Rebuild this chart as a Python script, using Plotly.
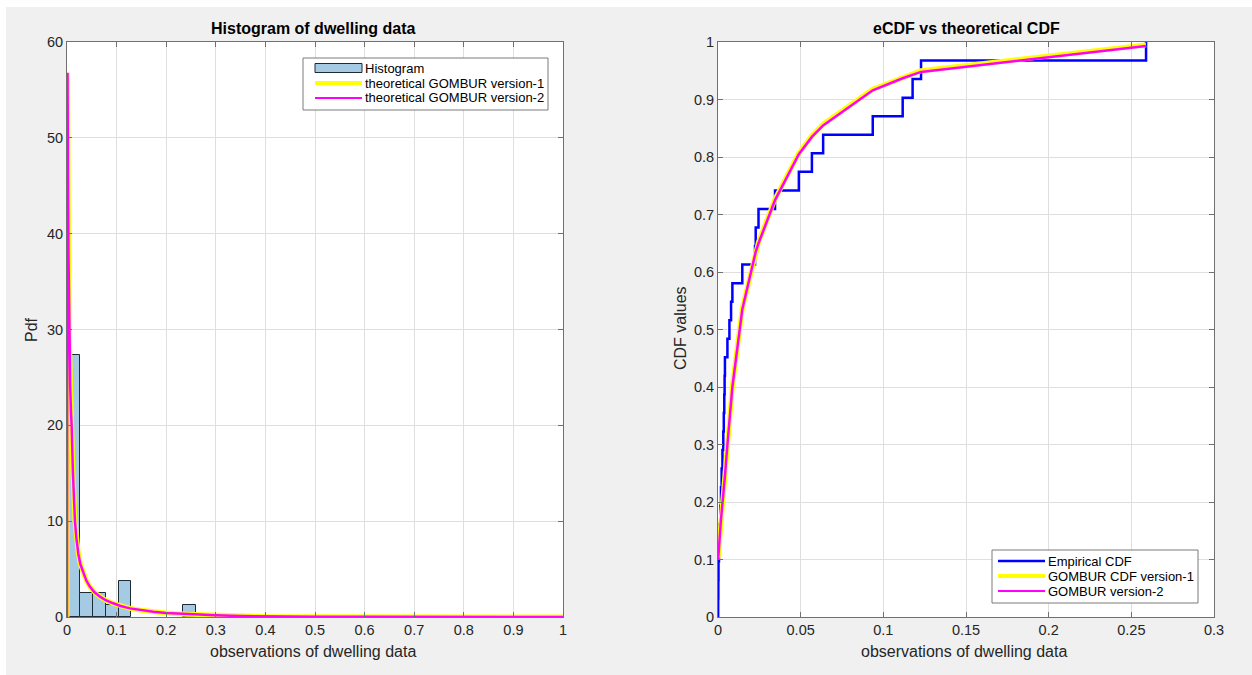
import numpy as np
import plotly.graph_objects as go

# ---- dwelling observations (sorted) ----
observations = [
    0.0001, 0.0002, 0.0003, 0.0006, 0.0010, 0.0014, 0.0018, 0.0022, 0.0027, 0.0032,
    0.0035, 0.0038, 0.0040, 0.0042, 0.0057, 0.0069, 0.0079, 0.0087, 0.0147, 0.0224,
    0.0228, 0.0245, 0.0345, 0.0489, 0.0568, 0.0636, 0.0936, 0.1117, 0.1177, 0.1228,
    0.2589,
]

# theoretical GOMBUR CDF evaluated at the observations
cdf_v1 = [
    0.102, 0.107, 0.112, 0.127, 0.142, 0.157, 0.172, 0.184, 0.197, 0.212,
    0.222, 0.232, 0.240, 0.247, 0.302, 0.347, 0.377, 0.402, 0.537, 0.632,
    0.637, 0.652, 0.727, 0.807, 0.837, 0.857, 0.918, 0.939, 0.945, 0.950,
    0.995,
]
cdf_v2 = [
    0.100, 0.105, 0.110, 0.125, 0.140, 0.155, 0.170, 0.182, 0.195, 0.210,
    0.220, 0.230, 0.238, 0.245, 0.300, 0.345, 0.375, 0.400, 0.535, 0.630,
    0.635, 0.650, 0.725, 0.805, 0.835, 0.855, 0.916, 0.937, 0.943, 0.948,
    0.993,
]

# theoretical GOMBUR pdf on a grid of x values
pdf_x = [0.0, 0.001, 0.002, 0.003, 0.0047, 0.0065, 0.008, 0.0094, 0.012, 0.016,
         0.019, 0.0228, 0.027, 0.033, 0.039, 0.046, 0.055, 0.0665, 0.078, 0.093,
         0.108, 0.127, 0.15, 0.174, 0.20, 0.241, 0.30, 0.35, 0.40, 0.50,
         0.60, 0.70, 0.80, 0.90, 1.0]
pdf_v1 = [0.0, 56.8, 46.0, 38.0, 29.0, 24.0, 21.5, 19.9, 15.0, 10.0,
          8.2, 6.6, 5.5, 4.56, 3.8, 3.17, 2.6, 2.12, 1.75, 1.43,
          1.15, 0.90, 0.70, 0.55, 0.42, 0.30, 0.18, 0.10, 0.06, 0.03,
          0.015, 0.008, 0.005, 0.003, 0.002]
pdf_v2 = [0.0, 56.8, 46.0, 38.0, 29.0, 24.0, 21.5, 19.9, 15.0, 10.0,
          8.2, 6.6, 5.5, 4.56, 3.8, 3.17, 2.6, 2.12, 1.75, 1.43,
          1.15, 0.90, 0.70, 0.55, 0.42, 0.30, 0.18, 0.10, 0.06, 0.03,
          0.015, 0.008, 0.005, 0.003, 0.002]

# histogram binning
bin_start, bin_end, bin_size = 0.0, 0.26, 0.026

# tick labels
hist_xticks = [0, 0.1, 0.2, 0.3, 0.4, 0.5, 0.6, 0.7, 0.8, 0.9, 1]
hist_xtext = ["0", "0.1", "0.2", "0.3", "0.4", "0.5", "0.6", "0.7", "0.8", "0.9", "1"]
hist_yticks = [0, 10, 20, 30, 40, 50, 60]
cdf_xticks = [0, 0.05, 0.1, 0.15, 0.2, 0.25, 0.3]
cdf_xtext = ["0", "0.05", "0.1", "0.15", "0.2", "0.25", "0.3"]
cdf_yticks = [0, 0.1, 0.2, 0.3, 0.4, 0.5, 0.6, 0.7, 0.8, 0.9, 1]
cdf_ytext = ["0", "0.1", "0.2", "0.3", "0.4", "0.5", "0.6", "0.7", "0.8", "0.9", "1"]

# legend entries
hist_legend = ["Histogram", "theoretical GOMBUR version-1", "theoretical GOMBUR version-2"]
cdf_legend = ["Empirical CDF", "GOMBUR CDF version-1", "GOMBUR version-2"]

# empirical CDF as a staircase
obs = np.asarray(observations)
n = len(obs)
ecdf_x = np.concatenate([[obs[0]], obs])
ecdf_y = np.arange(0, n + 1) / n

W, H = 1252, 675
ML, MR, MT, MB = 67, 38, 42, 58
PW = W - ML - MR
PH = H - MT - MB


def px(xp):
    return (xp - ML) / PW


def py(yp):
    return (H - MB - yp) / PH


FONT = "Liberation Sans, Arial, sans-serif"
AX = "#262626"
GRID = "#dfdfdf"
LINE = "#707070"
BAR = "#a5cae3"
BAR_EDGE = "#1e2b36"
YELLOW = "#ffff00"
MAGENTA = "#ff00ff"
BLUE = "#0000ff"

fig = go.Figure()

fig.add_trace(go.Histogram(
    x=observations, histnorm="probability density",
    xbins=dict(start=bin_start, end=bin_end, size=bin_size), autobinx=False,
    marker=dict(color=BAR, line=dict(color=BAR_EDGE, width=1)),
    name=hist_legend[0], xaxis="x", yaxis="y",
))
fig.add_trace(go.Scatter(
    x=pdf_x, y=pdf_v1, mode="lines", line=dict(color=YELLOW, width=5),
    name=hist_legend[1], xaxis="x", yaxis="y",
))
fig.add_trace(go.Scatter(
    x=pdf_x, y=pdf_v2, mode="lines", line=dict(color=MAGENTA, width=2.5),
    name=hist_legend[2], xaxis="x", yaxis="y",
))

fig.add_trace(go.Scatter(
    x=ecdf_x, y=ecdf_y, mode="lines", line=dict(color=BLUE, width=2.5, shape="hv"),
    name=cdf_legend[0], xaxis="x2", yaxis="y2",
))
fig.add_trace(go.Scatter(
    x=observations, y=cdf_v1, mode="lines", line=dict(color=YELLOW, width=5),
    name=cdf_legend[1], xaxis="x2", yaxis="y2",
))
fig.add_trace(go.Scatter(
    x=observations, y=cdf_v2, mode="lines", line=dict(color=MAGENTA, width=2.5),
    name=cdf_legend[2], xaxis="x2", yaxis="y2",
))

axis_common = dict(
    showline=True, linecolor=LINE, linewidth=1, mirror="ticks",
    ticks="inside", ticklen=5, tickcolor=LINE, tickwidth=1,
    showgrid=True, gridcolor=GRID, gridwidth=1, zeroline=False,
    tickfont=dict(family=FONT, size=14.5, color=AX),
    fixedrange=True,
)

fig.update_layout(
    width=W, height=H,
    margin=dict(l=ML, r=MR, t=MT, b=MB, pad=0),
    paper_bgcolor="#f0f0f0", plot_bgcolor="#ffffff",
    bargap=0, showlegend=False,
    xaxis=dict(domain=[0, px(563)], range=[0, 1], tickmode="array",
               tickvals=hist_xticks, ticktext=hist_xtext, anchor="y", **axis_common),
    yaxis=dict(domain=[0, 1], range=[0, 60], tickmode="array",
               tickvals=hist_yticks, anchor="x", **axis_common),
    xaxis2=dict(domain=[px(718), 1], range=[0, 0.3], tickmode="array",
                tickvals=cdf_xticks, ticktext=cdf_xtext, anchor="y2", **axis_common),
    yaxis2=dict(domain=[0, 1], range=[0, 1], tickmode="array",
                tickvals=cdf_yticks, ticktext=cdf_ytext, anchor="x2", **axis_common),
)

annotations = [
    dict(text="<b>Histogram of dwelling data</b>", x=px(313), y=py(28),
         font=dict(size=16, color="#000000")),
    dict(text="<b>eCDF vs theoretical CDF</b>", x=px(966), y=py(28),
         font=dict(size=16, color="#000000")),
    dict(text="observations of dwelling data", x=px(313), y=py(651),
         font=dict(size=16, color=AX)),
    dict(text="observations of dwelling data", x=px(964), y=py(651),
         font=dict(size=16, color=AX)),
    dict(text="Pdf", x=px(31), y=py(330), textangle=-90,
         font=dict(size=16, color=AX)),
    dict(text="CDF values", x=px(680), y=py(328), textangle=-90,
         font=dict(size=16, color=AX)),
]
for a in annotations:
    a.update(xanchor="center", yanchor="middle")

shapes = [
    # thin white border at the top and left of the window
    dict(type="rect", x0=px(0), x1=px(W), y0=py(7), y1=py(0),
         fillcolor="#ffffff", line=dict(width=0)),
    dict(type="rect", x0=px(0), x1=px(6), y0=py(H), y1=py(0),
         fillcolor="#ffffff", line=dict(width=0)),
]


def add_legend(box, rows, text_x, sym_x0, sym_x1, labels, styles):
    x0, y0, x1, y1 = box
    shapes.append(dict(type="rect", x0=px(x0), x1=px(x1), y0=py(y1), y1=py(y0),
                       fillcolor="#ffffff", line=dict(color="#7a7a7a", width=1)))
    for yrow, label, st in zip(rows, labels, styles):
        if st["kind"] == "patch":
            shapes.append(dict(type="rect", x0=px(sym_x0), x1=px(sym_x1),
                               y0=py(yrow + 4.5), y1=py(yrow - 4.5),
                               fillcolor=st["color"],
                               line=dict(color=st["edge"], width=1)))
        else:
            shapes.append(dict(type="line", x0=px(sym_x0), x1=px(sym_x1),
                               y0=py(yrow), y1=py(yrow),
                               line=dict(color=st["color"], width=st["width"])))
        annotations.append(dict(text=label, x=px(text_x), y=py(yrow),
                                xanchor="left", yanchor="middle",
                                font=dict(size=13, color="#000000")))


add_legend((303, 58, 548, 110), [68, 83, 98], 363, 315, 362, hist_legend,
           [dict(kind="patch", color=BAR, edge=BAR_EDGE),
            dict(kind="line", color=YELLOW, width=4),
            dict(kind="line", color=MAGENTA, width=2)])
add_legend((992, 550, 1198, 603), [561, 576, 591], 1046, 998, 1045, cdf_legend,
           [dict(kind="line", color=BLUE, width=2.5),
            dict(kind="line", color=YELLOW, width=4),
            dict(kind="line", color=MAGENTA, width=2)])

for a in annotations:
    a.update(xref="paper", yref="paper", showarrow=False)
    a["font"]["family"] = FONT
for s in shapes:
    s.update(xref="paper", yref="paper", layer="above")

fig.update_layout(annotations=annotations, shapes=shapes)

fig.write_html("out.html")
